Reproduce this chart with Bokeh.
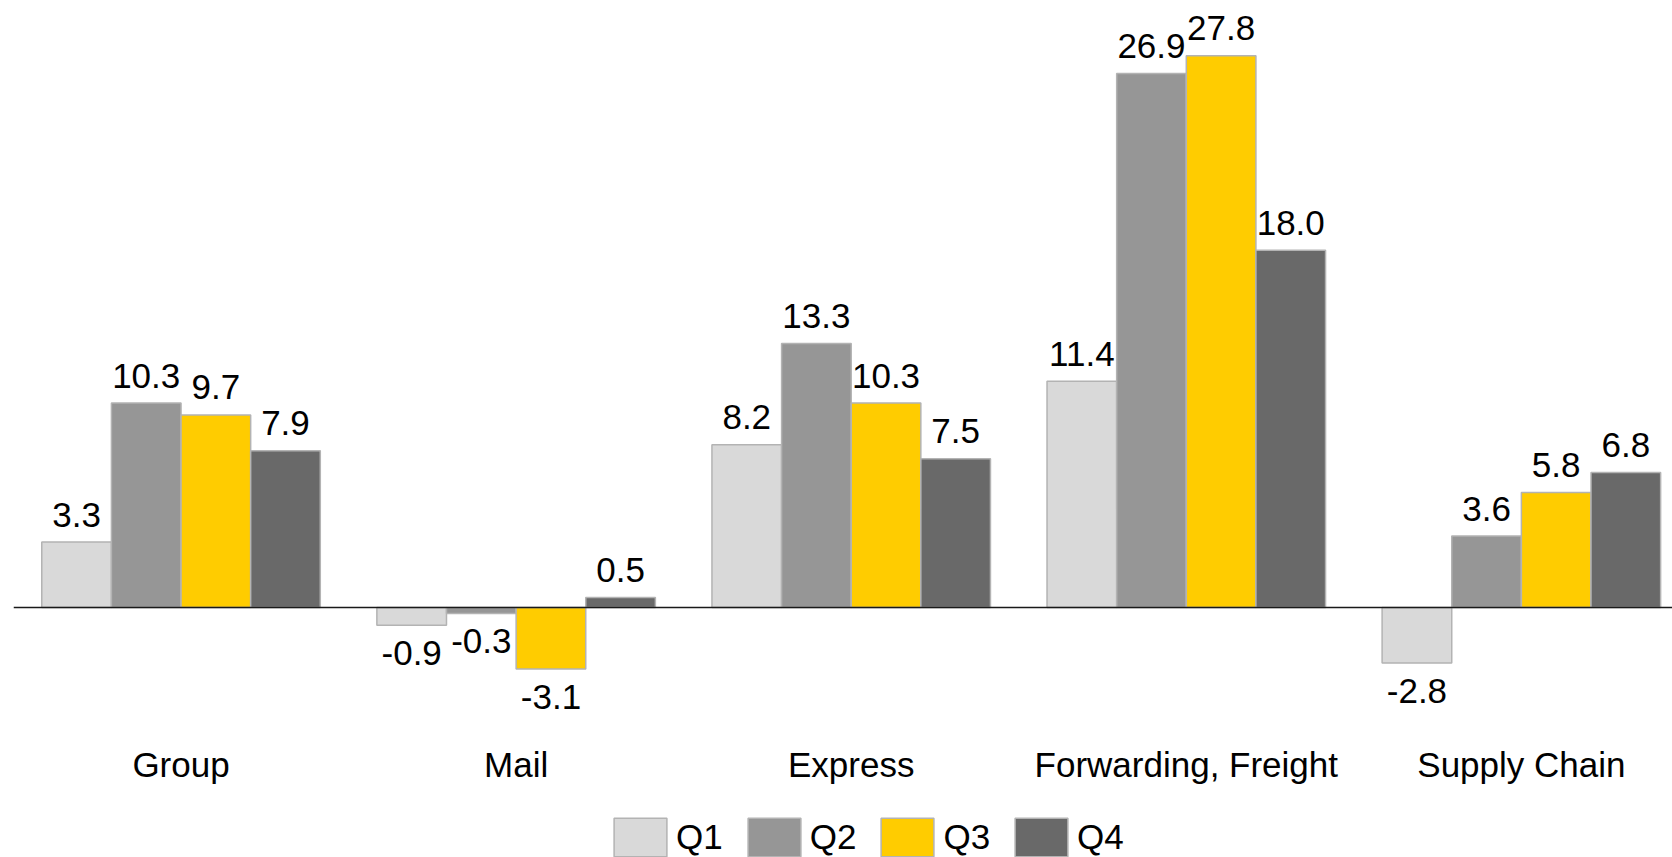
from bokeh.plotting import figure
from bokeh.layouts import column
from bokeh.models import (ColumnDataSource, Range1d, FixedTicker, Span, LabelSet,
                          Legend, LegendItem)
from bokeh.core.properties import value
from bokeh.transform import dodge
from bokeh.embed import file_html
from bokeh.resources import INLINE

# ---- data ----
categories = ["Group", "Mail", "Express", "Forwarding, Freight", "Supply Chain"]
quarters = ["Q1", "Q2", "Q3", "Q4"]
q1 = [3.3, -0.9, 8.2, 11.4, -2.8]
q2 = [10.3, -0.3, 13.3, 26.9, 3.6]
q3 = [9.7, -3.1, 10.3, 27.8, 5.8]
q4 = [7.9, 0.5, 7.5, 18.0, 6.8]
series = [q1, q2, q3, q4]
colors = ["#d9d9d9", "#969696", "#ffcc00", "#696969"]

FONT = "Liberation Sans"
FS = "35px"
BAR_W = 0.2078
EDGE = "#b3b3b3"

p = figure(width=1672, height=809, output_backend="svg", toolbar_location=None,
           x_range=Range1d(-0.5, 4.451), y_range=Range1d(-5.793, 30.58),
           y_axis_location=None, x_axis_location="below",
           min_border_left=13, min_border_right=0, min_border_top=0,
           min_border_bottom=87)
p.grid.visible = False
p.outline_line_color = None

data = {"x": list(range(len(categories)))}
for q, vals in zip(quarters, series):
    data[q] = vals
    data[q + "_txt"] = ["{:.1f}".format(v) for v in vals]
    data[q + "_off"] = [15.5 if v >= 0 else -39.5 for v in vals]
src = ColumnDataSource(data)

for i, (q, c) in enumerate(zip(quarters, colors)):
    off = (i - 1.5) * BAR_W
    p.vbar(x=dodge("x", off), top=q, bottom=0, width=BAR_W, source=src,
           fill_color=c, line_color=EDGE, line_width=1.5)
    lbl = LabelSet(x=dodge("x", off), y=q, text=q + "_txt", y_offset=q + "_off",
                   source=src, text_align="center", text_baseline="alphabetic",
                   text_font=value(FONT), text_font_size=value(FS),
                   text_color="black")
    p.add_layout(lbl)

p.add_layout(Span(location=0, dimension="width", line_color="#1a1a1a", line_width=1.5))

ax = p.xaxis[0]
ax.ticker = FixedTicker(ticks=data["x"])
ax.major_label_overrides = {i: c for i, c in enumerate(categories)}
ax.major_tick_out = 0
ax.major_tick_in = 0
ax.minor_tick_out = 0
ax.minor_tick_in = 0
ax.axis_line_color = None
ax.major_label_standoff = 22
ax.major_label_text_font = FONT
ax.major_label_text_font_size = FS
ax.major_label_text_color = "black"

# legend strip below the chart (its renderers are hidden; only the key shows)
lg = figure(width=1672, height=48, output_backend="svg", toolbar_location=None,
            x_range=Range1d(-0.5, 4.451), y_range=Range1d(-5.793, 30.58),
            x_axis_location=None, y_axis_location=None,
            min_border_left=0, min_border_right=0, min_border_top=0,
            min_border_bottom=0)
lg.grid.visible = False
lg.outline_line_color = None
items = []
for i, (q, c) in enumerate(zip(quarters, colors)):
    r = lg.vbar(x=dodge("x", (i - 1.5) * BAR_W), top=q, bottom=0, width=BAR_W,
                source=src, fill_color=c, line_color=EDGE, line_width=1.5,
                visible=False)
    items.append(LegendItem(label=q, renderers=[r]))
legend = Legend(items=items, orientation="horizontal", location=(594, -4),
                glyph_width=66, glyph_height=48, label_standoff=3, spacing=18,
                padding=0, margin=0, border_line_color=None,
                background_fill_alpha=0, inactive_fill_alpha=0,
                label_text_font=FONT, label_text_font_size=FS,
                label_text_color="black")
lg.add_layout(legend)

layout = column(p, lg, spacing=0)
open("out.html", "w").write(file_html(layout, INLINE))
